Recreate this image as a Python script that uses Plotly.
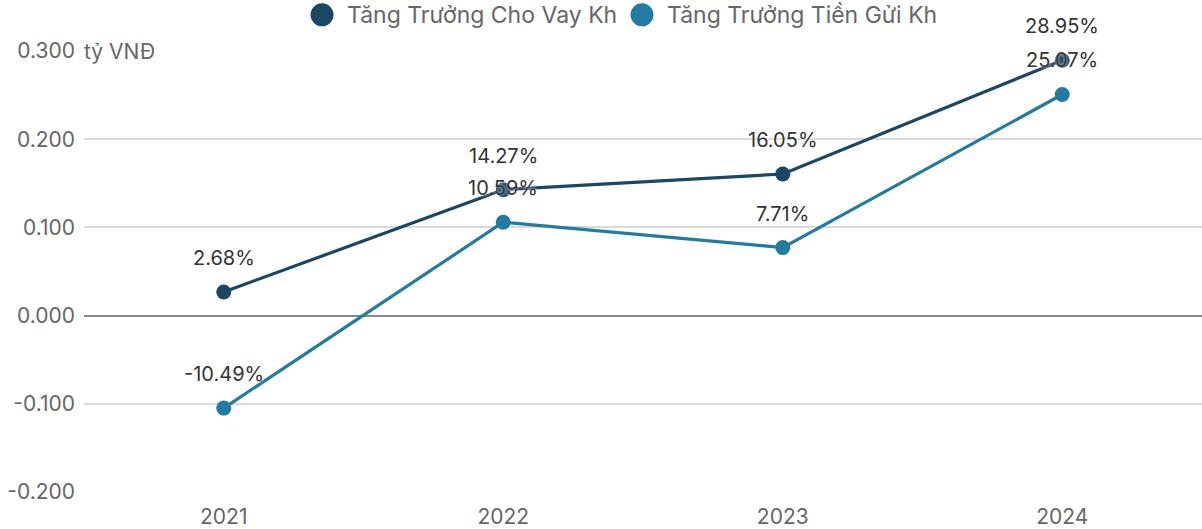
import plotly.graph_objects as go

years = ["2021", "2022", "2023", "2024"]
cho_vay = [0.0268, 0.1427, 0.1605, 0.2895]
tien_gui = [-0.1049, 0.1059, 0.0771, 0.2507]
series_names = ["Tăng Trưởng Cho Vay Kh", "Tăng Trưởng Tiền Gửi Kh"]
y_ticks = [-0.2, -0.1, 0.0, 0.1, 0.2, 0.3]
y_tick_labels = ["-0.200", "-0.100", "0.000", "0.100", "0.200", "0.300"]
unit_label = "tỷ VNĐ"

colors = ["#1b4766", "#237ba2"]
FONT = "Inter"

fig = go.Figure()
for name, vals, col in zip(series_names, [cho_vay, tien_gui], colors):
    fig.add_trace(go.Scatter(
        x=years, y=vals, name=name, mode="lines+markers",
        line=dict(color=col, width=3.2),
        marker=dict(color=col, size=15),
        cliponaxis=False, showlegend=False,
    ))

annotations = []
for vals in [cho_vay, tien_gui]:
    for i, v in enumerate(vals):
        annotations.append(dict(
            x=i, y=v, xref="x", yref="y", text=f"{v*100:.2f}%",
            showarrow=False, yshift=34, xanchor="center", yanchor="middle",
            font=dict(family=FONT, size=20, color="#333333",
                      shadow="0px 0px 3px white"),
        ))
annotations.append(dict(
    x=0, y=0.3, xref="paper", yref="y", text=unit_label, showarrow=False,
    xanchor="left", yanchor="middle", xshift=-6, bgcolor="white", borderpad=5,
    font=dict(family=FONT, size=21, color="#666666"),
))

# custom legend (large round swatches + labels)
legend_y = 1.082
legend_circle_x = [0.2129, 0.4991]
legend_text_x = [0.2335, 0.5197]
shapes = []
for name, col, cx, tx in zip(series_names, colors, legend_circle_x, legend_text_x):
    shapes.append(dict(type="circle", xref="paper", yref="paper",
                       xsizemode="pixel", ysizemode="pixel",
                       xanchor=cx, yanchor=legend_y,
                       x0=-11.5, x1=11.5, y0=-11.5, y1=11.5,
                       fillcolor=col, line=dict(width=0)))
    annotations.append(dict(x=tx, y=legend_y, xref="paper", yref="paper",
                            text=name, showarrow=False, xanchor="left",
                            yanchor="middle",
                            font=dict(family=FONT, size=23, color="#666666")))

fig.update_layout(
    width=1202, height=529,
    margin=dict(l=84, r=0, t=51, b=37, autoexpand=False),
    paper_bgcolor="white", plot_bgcolor="white",
    font=dict(family=FONT, size=21, color="#666666"),
    showlegend=False,
    annotations=annotations,
    shapes=shapes,
    xaxis=dict(type="category", range=[-0.5, 3.5], showgrid=False, zeroline=False,
               showline=False, ticks="", tickfont=dict(size=21, color="#666666"),
               ticklabelstandoff=10, automargin=False),
    yaxis=dict(range=[-0.2, 0.3], tickvals=y_ticks, ticktext=y_tick_labels,
               showgrid=True, gridcolor="#d9d9d9", gridwidth=1.5,
               zeroline=True, zerolinecolor="#888888", zerolinewidth=2,
               showline=False, ticks="", tickfont=dict(size=21, color="#666666"),
               ticklabelstandoff=8, automargin=False),
)
fig.write_html("out.html",
               config={"displayModeBar": False},
               post_script="document.body.style.margin='0';document.body.style.overflow='hidden';")
